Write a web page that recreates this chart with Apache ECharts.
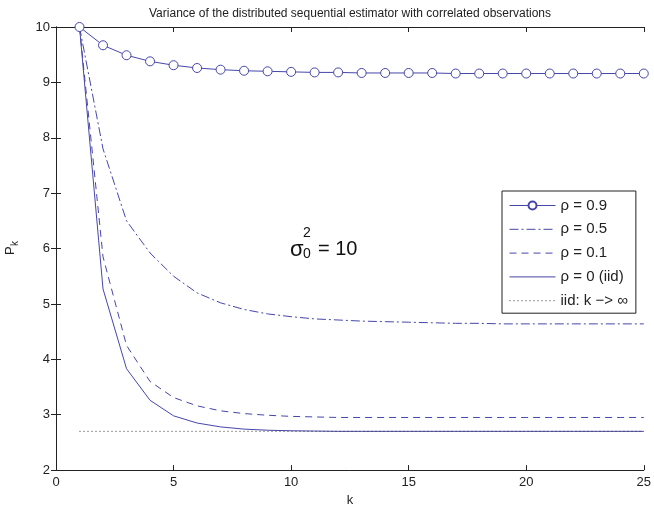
<!DOCTYPE html>
<html>
<head>
<meta charset="utf-8">
<script src="https://cdn.jsdelivr.net/npm/echarts@6/dist/echarts.min.js"></script>
<style>
html,body{margin:0;padding:0;background:#fff;}
#chart{width:654px;height:512px;}
</style>
</head>
<body>
<div id="chart"></div>
<script>
// ---- data ----
var kValues = [1,2,3,4,5,6,7,8,9,10,11,12,13,14,15,16,17,18,19,20,21,22,23,24,25];
var rho09 = [10,9.67,9.49,9.38,9.31,9.26,9.23,9.21,9.20,9.19,9.18,9.18,9.17,9.17,9.17,9.17,9.16,9.16,9.16,9.16,9.16,9.16,9.16,9.16,9.16];
var rho05 = [10,7.8,6.5,5.92,5.5,5.2,5.02,4.9,4.82,4.77,4.73,4.71,4.69,4.68,4.67,4.66,4.65,4.65,4.64,4.64,4.64,4.64,4.64,4.64,4.64];
var rho01 = [10,5.85,4.25,3.6,3.31,3.16,3.07,3.02,2.99,2.97,2.96,2.95,2.95,2.95,2.95,2.95,2.95,2.95,2.95,2.95,2.95,2.95,2.95,2.95,2.95];
var rho0  = [10,5.27,3.83,3.26,2.98,2.85,2.78,2.74,2.72,2.71,2.705,2.70,2.70,2.70,2.70,2.70,2.70,2.70,2.70,2.70,2.70,2.70,2.70,2.70,2.70];
var iidK = [1,25];
var iidVal = [2.7,2.7];
var seriesNames = ['ρ = 0.9','ρ = 0.5','ρ = 0.1','ρ = 0 (iid)','iid: k −> ∞'];
var xTicks = [0,5,10,15,20,25];
var yTicks = [2,3,4,5,6,7,8,9,10];

function pairs(xs, ys){ return xs.map(function(x,i){ return [x, ys[i]]; }); }

var blue = '#4646aa';
var chart = echarts.init(document.getElementById('chart'));
var font = 'Liberation Sans, Arial, sans-serif';

function axisCommon(extra){
  var base = {
    type:'value',
    axisLine:{show:true,lineStyle:{color:'#222',width:1}},
    axisTick:{show:true,inside:true,length:5,lineStyle:{color:'#222'}},
    splitLine:{show:false},
    axisLabel:{color:'#222',fontSize:13,fontFamily:font}
  };
  for (var k in extra) base[k] = extra[k];
  return base;
}

var legendData = seriesNames.map(function(n,i){
  return i === 0 ? {name:n} : {name:n, itemStyle:{opacity:0}};
});

chart.setOption({
  animation:false,
  backgroundColor:'#fff',
  grid:{left:56,right:9,top:27,bottom:38},
  xAxis:[
    axisCommon({min:xTicks[0],max:xTicks[xTicks.length-1],interval:5,position:'bottom',
      name:'k',nameLocation:'middle',nameGap:22,nameTextStyle:{color:'#222',fontSize:13,fontFamily:font},
      axisLabel:{color:'#222',fontSize:13,fontFamily:font,margin:6}}),
    axisCommon({min:xTicks[0],max:xTicks[xTicks.length-1],interval:5,position:'top',axisLabel:{show:false}})
  ],
  yAxis:[
    axisCommon({min:yTicks[0],max:yTicks[yTicks.length-1],interval:1,position:'left',
      axisLabel:{color:'#222',fontSize:13,fontFamily:font,margin:6}}),
    axisCommon({min:yTicks[0],max:yTicks[yTicks.length-1],interval:1,position:'right',axisLabel:{show:false}})
  ],
  legend:{
    orient:'vertical',left:502,top:191,
    width:136,
    backgroundColor:'#fff',borderColor:'#222',borderWidth:1,
    padding:[7,8,5,7],
    itemWidth:46,itemHeight:10,itemGap:8.8,
    lineStyle:{width:1},
    textStyle:{fontSize:15,color:'#222',fontFamily:font,lineHeight:12},
    data:legendData
  },
  graphic:[
    {type:'text',x:350,y:8,style:{text:'Variance of the distributed sequential estimator with correlated observations',fontSize:12,fill:'#222',fontFamily:font,textAlign:'center'}},
    {type:'text',x:10,y:255,rotation:Math.PI/2,style:{text:'P',fontSize:13,fill:'#222',fontFamily:font,textAlign:'left',textVerticalAlign:'middle'}},
    {type:'text',x:15,y:246,rotation:Math.PI/2,style:{text:'k',fontSize:10,fill:'#222',fontFamily:font,textAlign:'left',textVerticalAlign:'middle'}},
    {type:'text',x:290,y:250,style:{text:'σ',fontSize:22,fill:'#111',fontFamily:font,textAlign:'left',textVerticalAlign:'middle'}},
    {type:'text',x:303,y:233,style:{text:'2',fontSize:14,fill:'#111',fontFamily:font,textAlign:'left',textVerticalAlign:'middle'}},
    {type:'text',x:303,y:254,style:{text:'0',fontSize:14,fill:'#111',fontFamily:font,textAlign:'left',textVerticalAlign:'middle'}},
    {type:'text',x:318,y:249,style:{text:'= 10',fontSize:20,fill:'#111',fontFamily:font,textAlign:'left',textVerticalAlign:'middle'}}
  ],
  series:[
    {name:seriesNames[0],type:'line',data:pairs(kValues,rho09),symbol:'circle',symbolSize:9,
      itemStyle:{color:'#fff',borderColor:blue,borderWidth:1},lineStyle:{color:blue,width:1}},
    {name:seriesNames[1],type:'line',data:pairs(kValues,rho05),symbol:'none',
      itemStyle:{color:blue},lineStyle:{color:blue,width:1,type:[9,3,2,3]}},
    {name:seriesNames[2],type:'line',data:pairs(kValues,rho01),symbol:'none',
      itemStyle:{color:blue},lineStyle:{color:blue,width:1,type:[7,5]}},
    {name:seriesNames[3],type:'line',data:pairs(kValues,rho0),symbol:'none',
      itemStyle:{color:blue},lineStyle:{color:blue,width:1}},
    {name:seriesNames[4],type:'line',data:pairs(iidK,iidVal),symbol:'none',
      itemStyle:{color:'#333'},lineStyle:{color:'#333',width:1,type:[1,3]}}
  ]
});
</script>
</body>
</html>
